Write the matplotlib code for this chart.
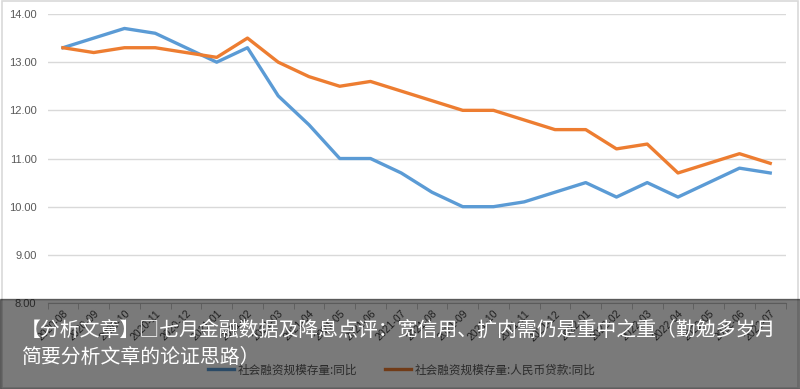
import matplotlib.pyplot as plt
from matplotlib.patches import Rectangle

plt.rcParams['font.family'] = ['Noto Sans CJK SC', 'DejaVu Sans']

months = ['2020-08', '2020-09', '2020-10', '2020-11', '2020-12',
          '2021-01', '2021-02', '2021-03', '2021-04', '2021-05', '2021-06',
          '2021-07', '2021-08', '2021-09', '2021-10', '2021-11', '2021-12',
          '2022-01', '2022-02', '2022-03', '2022-04', '2022-05', '2022-06',
          '2022-07']
# 社会融资规模存量:同比
tsf_yoy = [13.3, 13.5, 13.7, 13.6, 13.3, 13.0, 13.3, 12.3, 11.7, 11.0, 11.0,
           10.7, 10.3, 10.0, 10.0, 10.1, 10.3, 10.5, 10.2, 10.5, 10.2, 10.5,
           10.8, 10.7]
# 社会融资规模存量:人民币贷款:同比
loan_yoy = [13.3, 13.2, 13.3, 13.3, 13.2, 13.1, 13.5, 13.0, 12.7, 12.5, 12.6,
            12.4, 12.2, 12.0, 12.0, 11.8, 11.6, 11.6, 11.2, 11.3, 10.7, 10.9,
            11.1, 10.9]
yticks = [8, 9, 10, 11, 12, 13, 14]

title_1 = '【分析文章】□七月金融数据及降息点评：宽信用、扩内需仍是重中之重（勤勉多岁月'
title_2 = '简要分析文章的论证思路）'

fig = plt.figure(figsize=(8, 3.89), dpi=100)
ax = fig.add_axes([0.0595, 0.221, 0.9225, 0.743])

x = list(range(len(months)))
ax.plot(x, tsf_yoy, color='#5B9BD5', lw=2.4, label='社会融资规模存量:同比')
ax.plot(x, loan_yoy, color='#ED7D31', lw=2.4, label='社会融资规模存量:人民币贷款:同比')

ax.set_xlim(-0.5, len(months) - 0.5)
ax.set_ylim(8, 14)
ax.set_yticks(yticks)
ax.set_yticklabels(['%.2f' % v for v in yticks], family='Liberation Sans',
                   fontsize=8, color='#595959')
ax.set_xticks(x)
ax.set_xticklabels(months, rotation=45, ha='right', rotation_mode='anchor',
                   family='Liberation Sans', fontsize=7.5, color='#404040')
ax.set_xticks([i - 0.5 for i in range(len(months) + 1)], minor=True)
ax.tick_params(axis='x', which='major', length=0, pad=4)
ax.tick_params(axis='x', which='minor', length=4, color='#bfbfbf')
ax.tick_params(axis='y', length=0, pad=8)
ax.grid(axis='y', color='#d9d9d9', lw=1)
ax.set_axisbelow(True)
for s in ['top', 'right', 'left']:
    ax.spines[s].set_visible(False)
ax.spines['bottom'].set_color('#bfbfbf')

fig.legend(loc='center', bbox_to_anchor=(0.5025, 0.049), ncol=2, frameon=False,
           fontsize=8.4, handlelength=2.2, handletextpad=0.35,
           columnspacing=2.4, labelcolor='#595959')

# chart border
fig.patches.append(Rectangle((0.002, 0.002), 0.996, 0.996, transform=fig.transFigure,
                             fill=False, ec='#d9d9d9', lw=1.2))
# dark caption band
fig.patches.append(Rectangle((0, 0), 1, 0.231, transform=fig.transFigure,
                             color='black', alpha=0.52, zorder=10))
fig.text(0.026, 0.150, title_1, color='white', fontsize=14.3, va='center',
         ha='left', zorder=11)
fig.text(0.026, 0.082, title_2, color='white', fontsize=14.3, va='center',
         ha='left', zorder=11)

fig.savefig('out.png', dpi=100)
